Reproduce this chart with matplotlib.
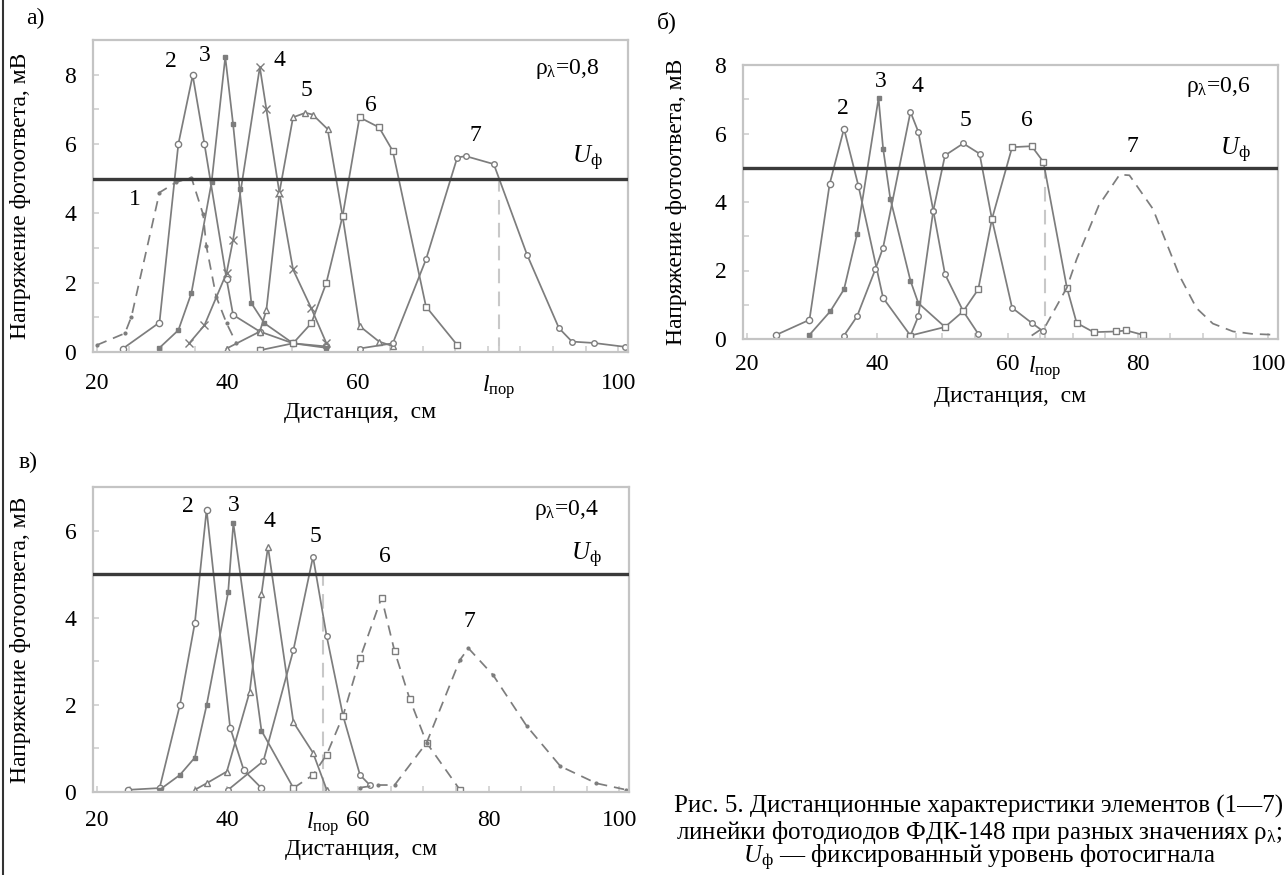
import matplotlib
matplotlib.use("Agg")
import matplotlib.pyplot as plt
from matplotlib.ticker import MultipleLocator
from matplotlib.lines import Line2D

plt.rcParams['font.family'] = ['Liberation Serif', 'DejaVu Serif']
plt.rcParams['mathtext.fontset'] = 'custom'
plt.rcParams['mathtext.rm'] = 'Liberation Serif'
plt.rcParams['mathtext.it'] = 'Liberation Serif:italic'
plt.rcParams['mathtext.bf'] = 'Liberation Serif:bold'

# ---------------- data: panel а (rho = 0,8) ----------------
a1_x = [20, 24.3, 25.3, 29.6, 32.2, 34.5, 36.3, 36.8, 38.3, 39.9, 41.4]
a1_y = [0.2, 0.54, 1.02, 4.6, 4.9, 5.03, 3.97, 3.05, 1.6, 0.83, 0.25]
a2_x = [24.0, 29.6, 32.5, 34.7, 36.5, 39.9, 40.9, 45.0, 50.1, 55.2]
a2_y = [0.10, 0.85, 6.0, 7.98, 6.0, 2.1, 1.07, 0.59, 0.25, 0.16]
a3_x = [29.6, 32.5, 34.5, 37.6, 39.7, 40.9, 41.9, 43.7, 45.7, 50.1, 55.2]
a3_y = [0.12, 0.63, 1.70, 4.9, 8.51, 6.57, 4.7, 1.41, 0.83, 0.25, 0.12]
a4_x = [34.2, 36.5, 39.9, 40.9, 45.0, 46.0, 48.0, 50.1, 52.9, 55.2]
a4_y = [0.26, 0.77, 2.28, 3.24, 8.22, 7.01, 4.6, 2.38, 1.26, 0.26]
a5_x = [39.9, 45.0, 46.0, 48.0, 50.1, 52.0, 53.1, 55.4, 57.7, 60.3, 63.3, 65.4]
a5_y = [0.10, 0.59, 1.2, 4.6, 6.77, 6.9, 6.85, 6.43, 3.92, 0.75, 0.30, 0.17]
a6_x = [45.0, 50.1, 52.9, 55.2, 57.7, 60.3, 63.3, 65.4, 70.5, 75.3]
a6_y = [0.05, 0.25, 0.83, 1.99, 3.92, 6.77, 6.48, 5.8, 1.31, 0.2]
a7_x = [60.3, 65.4, 70.5, 75.3, 76.6, 80.9, 86.0, 90.9, 92.9, 96.3, 101.0]
a7_y = [0.10, 0.25, 2.67, 5.61, 5.65, 5.42, 2.81, 0.69, 0.30, 0.26, 0.15]
a_lpor = 81.7
a_rho = 'ρ$_\\mathregular{λ}$=0,8'

# ---------------- data: panel б (rho = 0,6) ----------------
b2_x = [24.5, 29.6, 32.7, 34.9, 37.1, 40.9, 45.1]
b2_y = [0.12, 0.56, 4.53, 6.14, 4.48, 1.2, 0.1]
b3_x = [29.6, 32.8, 34.9, 36.9, 40.2, 40.9, 42.0, 45.1, 46.3, 50.4]
b3_y = [0.12, 0.81, 1.45, 3.06, 7.03, 5.56, 4.1, 1.7, 1.05, 0.35]
b4_x = [34.9, 36.9, 39.7, 40.9, 45.1, 46.3, 48.6, 50.4, 53.2, 55.5]
b4_y = [0.10, 0.66, 2.03, 2.67, 6.63, 6.05, 3.75, 1.89, 0.81, 0.15]
b5_x = [45.1, 46.3, 48.6, 50.4, 53.2, 55.7, 57.6, 60.7, 63.7, 65.5]
b5_y = [0.10, 0.66, 3.75, 5.36, 5.71, 5.41, 3.5, 0.91, 0.47, 0.22]
b6_x = [45.1, 50.4, 53.2, 55.5, 57.6, 60.7, 63.7, 65.5, 69.1, 70.6, 73.2, 76.7, 78.2, 80.8]
b6_y = [0.10, 0.35, 0.81, 1.45, 3.5, 5.6, 5.63, 5.17, 1.5, 0.47, 0.2, 0.22, 0.25, 0.12]
b7_x = [63.7, 65.8, 69.1, 70.6, 74.0, 77.2, 78.7, 82.3, 86.4, 89.0, 91.5, 94.6, 97.5, 101.3]
b7_y = [0.10, 0.37, 1.5, 2.33, 3.9, 4.8, 4.78, 3.8, 1.84, 0.9, 0.45, 0.22, 0.15, 0.12]
b_lpor = 65.7
b_rho = 'ρ$_\\mathregular{λ}$=0,6'

# ---------------- data: panel в (rho = 0,4) ----------------
c2_x = [24.8, 29.6, 32.7, 35.0, 36.8, 40.4, 42.5, 45.2]
c2_y = [0.05, 0.09, 1.99, 3.88, 6.48, 1.48, 0.5, 0.09]
c3_x = [29.6, 32.7, 35.0, 36.8, 40.1, 40.9, 45.2, 50.1]
c3_y = [0.05, 0.39, 0.79, 1.99, 4.58, 6.17, 1.41, 0.09]
c4_x = [35.0, 36.8, 39.9, 43.4, 45.2, 46.2, 50.1, 53.1, 55.2]
c4_y = [0.05, 0.2, 0.47, 2.3, 4.54, 5.63, 1.6, 0.9, 0.05]
c5_x = [40.1, 45.5, 50.1, 53.1, 55.2, 57.7, 60.3, 61.8]
c5_y = [0.05, 0.71, 3.26, 5.40, 3.57, 1.75, 0.39, 0.16]
c6_x = [50.1, 53.1, 55.2, 57.7, 60.3, 63.6, 65.6, 67.9, 70.5, 75.6]
c6_y = [0.09, 0.39, 0.86, 1.75, 3.07, 4.46, 3.23, 2.14, 1.13, 0.05]
c7_x = [60.3, 63.1, 65.6, 70.5, 75.6, 76.9, 80.7, 85.8, 91.0, 96.5, 101.1]
c7_y = [0.10, 0.16, 0.16, 1.13, 3.03, 3.3, 2.68, 1.52, 0.59, 0.2, 0.05]
c_lpor = 54.6
c_rho = 'ρ$_\\mathregular{λ}$=0,4'

U_level = 5.0
xlabel = 'Дистанция,  см'
ylabel = 'Напряжение фотоответа, мВ'
lpor_label = '$l_\\mathregular{пор}$'
u_label = '$U_\\mathregular{ф}$'

# curve label positions (number, x, y)
a_nums = [('1', 25.8, 4.4), ('2', 31.4, 8.37), ('3', 36.5, 8.56), ('4', 48.0, 8.41),
          ('5', 52.1, 7.55), ('6', 62.1, 7.11), ('7', 78.1, 6.24)]
b_nums = [('2', 34.8, 6.73), ('3', 40.5, 7.52), ('4', 46.1, 7.37), ('5', 53.5, 6.39),
          ('6', 63.0, 6.39), ('7', 79.1, 5.61)]
c_nums = [('2', 34.0, 6.56), ('3', 40.9, 6.57), ('4', 46.5, 6.21), ('5', 53.4, 5.86),
          ('6', 64.1, 5.40), ('7', 77.1, 3.92)]

FS = 17
GREY = '#7d7d7d'

W, H = 1288, 875
fig = plt.figure(figsize=(W / 100, H / 100), dpi=100)


def make_ax(left, top, right, bottom):
    return fig.add_axes([left / W, 1 - bottom / H, (right - left) / W, (bottom - top) / H])


SOLID = '-'
DASH = (0, (6, 4))


def style(marker, ls=SOLID, filled=False, ms=4.5):
    return dict(color=GREY, lw=1.25, ls=ls, marker=marker, ms=ms,
                mfc=GREY if filled else 'white', mec=GREY, mew=1.0)


def setup(ax, ymax, xlabels, lpor, rho, rho_xy, u_xy, nums, xpad, xlabpad, ylabpad):
    ax.set_xlim(19.4, 101.5)
    ax.set_ylim(0, ymax)
    for s in ax.spines.values():
        s.set_color('#c4c4c4')
        s.set_linewidth(1.6)
    ax.set_xticks(list(xlabels.keys()))
    ax.set_xticklabels(list(xlabels.values()))
    ax.xaxis.set_minor_locator(MultipleLocator(5))
    ax.set_yticks(range(0, int(ymax) + 1, 2))
    ax.yaxis.set_minor_locator(MultipleLocator(1))
    ax.tick_params(axis='both', which='both', direction='in', color='#d0d0d0',
                   length=4, width=1.2, labelsize=FS)
    ax.tick_params(axis='x', pad=xpad)
    ax.tick_params(axis='y', pad=12)
    ax.axhline(U_level, color='#3a3a3a', lw=2.4, zorder=5)
    ax.plot([lpor, lpor], [0, U_level], color='#c8c8c8', lw=1.5, ls=(0, (7, 4)), zorder=1)
    ax.set_xlabel(xlabel, fontsize=FS, labelpad=xlabpad)
    ax.set_ylabel(ylabel, fontsize=FS, labelpad=ylabpad)
    ax.text(rho_xy[0], rho_xy[1], rho, fontsize=FS, ha='center', va='center')
    ax.text(u_xy[0], u_xy[1], u_label, fontsize=FS + 1, ha='center', va='center')
    for t, x, y in nums:
        ax.text(x, y, t, fontsize=FS, ha='center', va='center')


# ---- panel а ----
axa = make_ax(93, 40, 628, 352)
axa.plot(a1_x, a1_y, **style('.', DASH, True, 4))
axa.plot(a2_x, a2_y, **style('o'))
axa.plot(a3_x, a3_y, **style('s', filled=True, ms=3))
axa.plot(a4_x, a4_y, **style('x', ms=6))
axa.plot(a5_x, a5_y, **style('^', ms=5))
axa.plot(a6_x, a6_y, **style('s', ms=4))
axa.plot(a7_x, a7_y, **style('o', ms=4))
setup(axa, 9, {20: '20', 40: '40', 60: '60', a_lpor: lpor_label, 100: '100'},
      a_lpor, a_rho, (92.2, 8.17), (95.2, 5.57), a_nums, 15, 1, 24)

# ---- panel б ----
axb = make_ax(743, 65, 1278, 339)
axb.plot(b2_x, b2_y, **style('o'))
axb.plot(b3_x, b3_y, **style('s', filled=True, ms=3))
axb.plot(b4_x, b4_y, **style('o', ms=4))
axb.plot(b5_x, b5_y, **style('o', ms=4))
axb.plot(b6_x, b6_y, **style('s', ms=4))
axb.plot(b7_x, b7_y, **style('', DASH))
setup(axb, 8, {20: '20', 40: '40', 60: '60', b_lpor: lpor_label, 80: '80', 100: '100'},
      b_lpor, b_rho, (92.3, 7.37), (94.9, 5.51), b_nums, 11, 3, 20)

# ---- panel в ----
axc = make_ax(93, 487, 629, 792)
axc.plot(c2_x, c2_y, **style('o'))
axc.plot(c3_x, c3_y, **style('s', filled=True, ms=3))
axc.plot(c4_x, c4_y, **style('^', ms=4))
axc.plot(c5_x, c5_y, **style('o', ms=4))
axc.plot(c6_x, c6_y, **style('s', DASH, ms=4))
axc.plot(c7_x, c7_y, **style('.', DASH, True, 4))
setup(axc, 7, {20: '20', 40: '40', c_lpor: lpor_label, 60: '60', 80: '80', 100: '100'},
      c_lpor, c_rho, (91.9, 6.48), (95.0, 5.43), c_nums, 13, 1, 24)

# panel letters
fig.text(35 / W, 1 - 18 / H, 'а)', fontsize=FS, ha='center', va='center')
fig.text(667 / W, 1 - 22 / H, 'б)', fontsize=FS, ha='center', va='center')
fig.text(28 / W, 1 - 462 / H, 'в)', fontsize=FS, ha='center', va='center')

# caption
cap = ['Рис. 5. Дистанционные характеристики элементов (1—7)',
       'линейки фотодиодов ФДК-148 при разных значениях ρ$_\\mathregular{λ}$;',
       '$U_\\mathregular{ф}$ — фиксированный уровень фотосигнала']
for i, line in enumerate(cap):
    fig.text(979 / W, 1 - (806 + 26 * i) / H, line, fontsize=18, ha='center', va='center')

# page border line on the left
fig.add_artist(Line2D([2.5 / W, 2.5 / W], [0, 1], color='#333333', lw=1.5))

fig.savefig('out.png', dpi=100, facecolor='white')
